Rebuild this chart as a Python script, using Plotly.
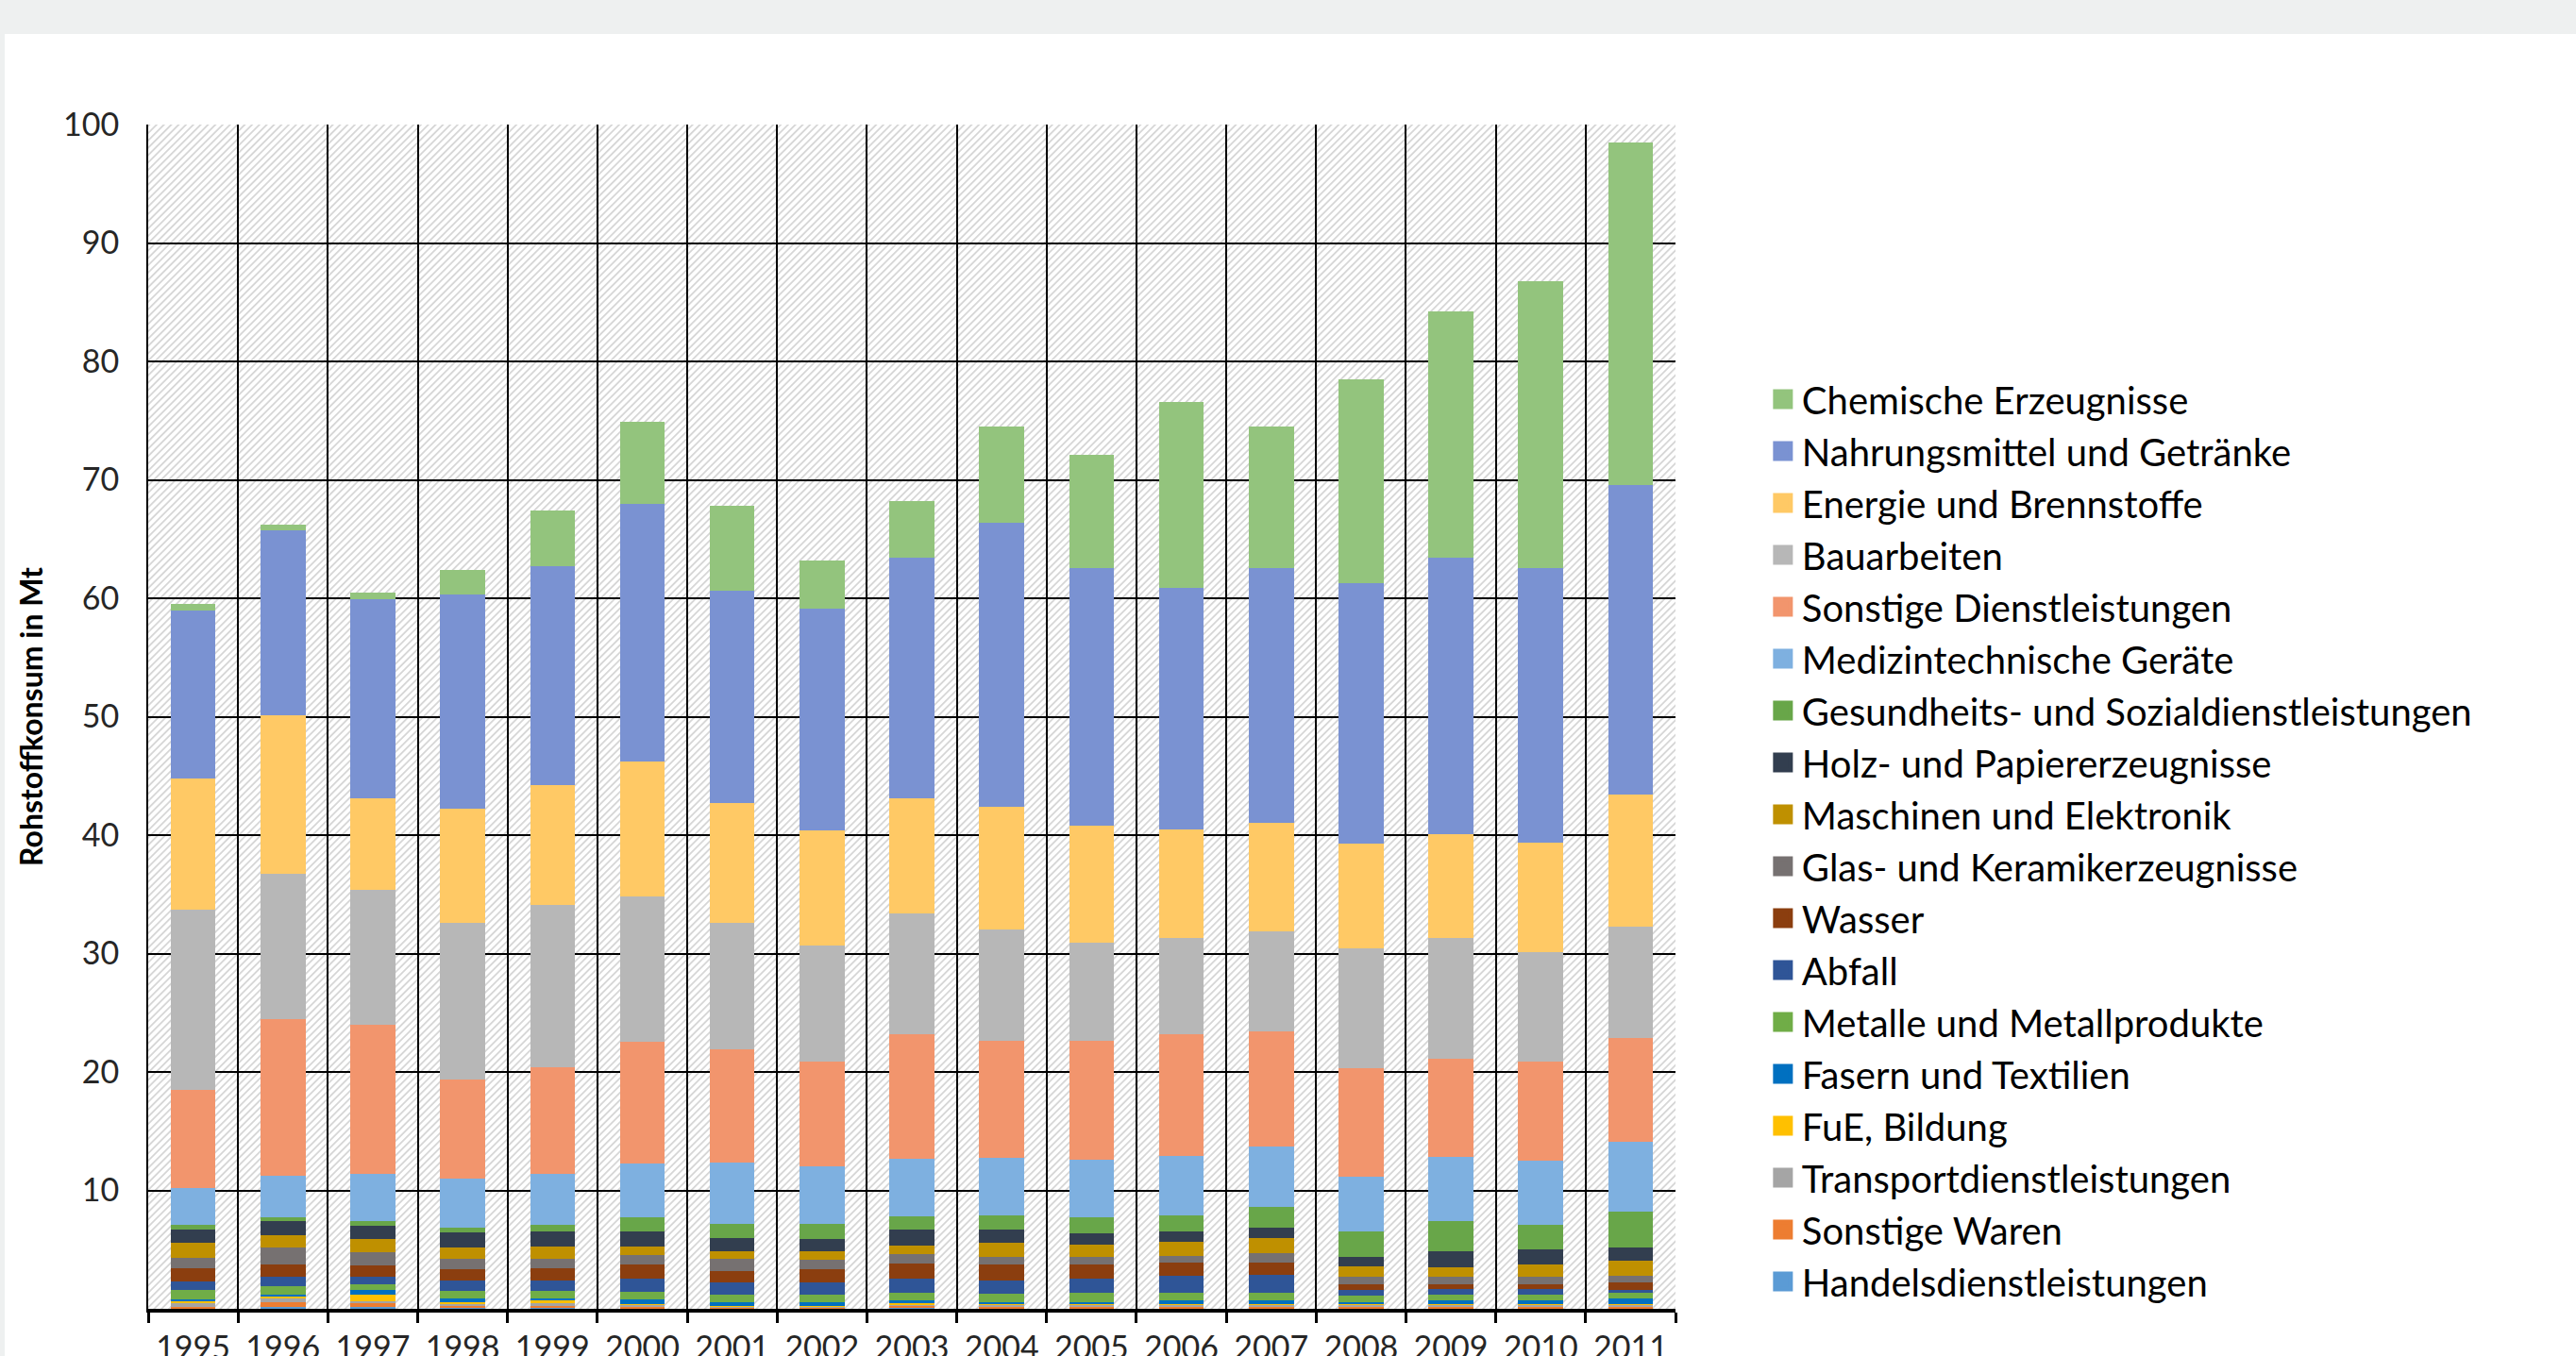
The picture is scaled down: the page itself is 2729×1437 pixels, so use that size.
import base64
import plotly.graph_objects as go

years = [str(y) for y in range(1995, 2012)]

# series, bottom of the stack first
handels = [0.07, 0.14, 0.12, 0.10, 0.07, 0.07, 0.05, 0.05, 0.08, 0.06, 0.06, 0.07, 0.07, 0.06, 0.07, 0.07, 0.07]
sonst_waren = [0.12, 0.45, 0.32, 0.20, 0.18, 0.14, 0.05, 0.05, 0.12, 0.12, 0.12, 0.13, 0.13, 0.12, 0.13, 0.13, 0.13]
transport = [0.32, 0.25, 0.20, 0.13, 0.20, 0.13, 0.06, 0.06, 0.16, 0.15, 0.15, 0.15, 0.15, 0.15, 0.15, 0.15, 0.15]
fue = [0.10, 0.25, 0.58, 0.13, 0.30, 0.08, 0.05, 0.05, 0.15, 0.10, 0.10, 0.07, 0.07, 0.10, 0.07, 0.07, 0.07]
fasern = [0.16, 0.13, 0.35, 0.34, 0.13, 0.35, 0.35, 0.35, 0.18, 0.13, 0.13, 0.32, 0.32, 0.13, 0.32, 0.32, 0.48]
metalle = [0.80, 0.67, 0.48, 0.64, 0.66, 0.64, 0.66, 0.66, 0.66, 0.71, 0.79, 0.61, 0.61, 0.53, 0.48, 0.48, 0.45]
abfall = [0.71, 0.85, 0.69, 0.88, 0.88, 1.14, 1.01, 1.01, 1.20, 1.15, 1.20, 1.47, 1.52, 0.48, 0.48, 0.48, 0.27]
wasser = [1.15, 1.00, 0.95, 0.93, 0.98, 1.19, 0.98, 1.12, 1.27, 1.32, 1.19, 1.06, 1.01, 0.50, 0.37, 0.40, 0.61]
glas = [0.90, 1.47, 1.12, 0.85, 0.80, 0.80, 0.99, 0.79, 0.80, 0.67, 0.62, 0.61, 0.85, 0.61, 0.67, 0.58, 0.59]
maschinen = [1.22, 1.00, 1.06, 1.01, 1.06, 0.72, 0.69, 0.75, 0.72, 1.14, 1.06, 1.19, 1.27, 0.88, 0.79, 1.06, 1.27]
holz = [1.17, 1.17, 1.17, 1.27, 1.27, 1.27, 1.11, 0.98, 1.33, 1.17, 0.98, 0.85, 0.88, 0.80, 1.36, 1.28, 1.12]
gesundheit = [0.40, 0.35, 0.37, 0.37, 0.54, 1.20, 1.20, 1.33, 1.14, 1.14, 1.33, 1.33, 1.70, 2.17, 2.49, 2.05, 3.00]
medizin = [3.08, 3.50, 3.96, 4.12, 4.30, 4.51, 5.18, 4.83, 4.89, 4.92, 4.83, 5.04, 5.12, 4.65, 5.48, 5.44, 5.89]
sonst_dl = [8.30, 13.27, 12.63, 8.43, 9.03, 10.31, 9.52, 8.87, 10.50, 9.82, 10.04, 10.30, 9.70, 9.12, 8.24, 8.39, 8.80]
bau = [15.2, 12.25, 11.4, 13.2, 13.7, 12.25, 10.7, 9.75, 10.2, 9.4, 8.3, 8.1, 8.5, 10.1, 10.2, 9.2, 9.4]
energie = [11.1, 13.35, 7.7, 9.6, 10.1, 11.4, 10.1, 9.75, 9.7, 10.4, 9.9, 9.2, 9.15, 8.85, 8.8, 9.3, 11.1]
nahrung = [14.15, 15.6, 16.8, 18.1, 18.5, 21.76, 17.9, 18.7, 20.3, 24.0, 21.75, 20.4, 21.5, 22.05, 23.3, 23.15, 26.2]
chemie = [0.55, 0.5, 0.6, 2.1, 4.7, 6.94, 7.2, 4.1, 4.8, 8.1, 9.55, 15.7, 11.95, 17.2, 20.8, 24.25, 28.9]

series_names = [
    "Handelsdienstleistungen", "Sonstige Waren", "Transportdienstleistungen", "FuE, Bildung",
    "Fasern und Textilien", "Metalle und Metallprodukte", "Abfall", "Wasser",
    "Glas- und Keramikerzeugnisse", "Maschinen und Elektronik", "Holz- und Papiererzeugnisse",
    "Gesundheits- und Sozialdienstleistungen", "Medizintechnische Geräte",
    "Sonstige Dienstleistungen", "Bauarbeiten", "Energie und Brennstoffe",
    "Nahrungsmittel und Getränke", "Chemische Erzeugnisse",
]
series_values = [
    handels, sonst_waren, transport, fue, fasern, metalle, abfall, wasser, glas,
    maschinen, holz, gesundheit, medizin, sonst_dl, bau, energie, nahrung, chemie,
]
series_colors = [
    "#5B9BD5", "#ED7D31", "#A5A5A5", "#FFC000", "#0070C0", "#70AD47", "#2F5597", "#8B3E0F",
    "#767171", "#BF9000", "#323E4F", "#68A649", "#7EB0E0", "#F2956D", "#B7B7B7", "#FFC965",
    "#7A92D2", "#93C47D",
]

y_ticks = list(range(10, 101, 10))

FONT = "Lato"
W, H = 2729, 1437
ML, MR, MT, MB = 157, 954, 132, 50
PW, PH = W - ML - MR, H - MT - MB


def py(pix):
    """pixel row (from top of the page) -> paper y"""
    return (H - MB - pix) / PH


def px(pix):
    """pixel column (from left of the page) -> paper x"""
    return (pix - ML) / PW


fig = go.Figure()
for name, vals, col in zip(series_names, series_values, series_colors):
    fig.add_trace(go.Bar(
        x=years, y=vals, name=name, marker=dict(color=col, line=dict(width=0)),
        legendgroup=name, showlegend=False,
    ))

# legend entries (top series first, like the reference)
for name, col in reversed(list(zip(series_names, series_colors))):
    fig.add_trace(go.Scatter(
        x=[None], y=[None], mode="markers", name=name, legendgroup=name,
        marker=dict(symbol="square", size=16, color=col, line=dict(width=5, color=col)),
    ))

# hatched plot background (diagonal light-grey stripes)
svg = (
    f'<svg xmlns="http://www.w3.org/2000/svg" width="{PW}" height="{PH}" viewBox="0 0 {PW} {PH}">'
    '<defs><pattern id="h" width="5.5" height="5.5" patternUnits="userSpaceOnUse" patternTransform="rotate(45)">'
    '<rect x="0" y="0" width="1.8" height="5.5" fill="#d6d6d6"/></pattern></defs>'
    f'<rect x="0" y="0" width="{PW}" height="{PH}" fill="#ffffff"/>'
    f'<rect x="0" y="0" width="{PW}" height="{PH}" fill="url(#h)"/></svg>'
)
svg_uri = "data:image/svg+xml;base64," + base64.b64encode(svg.encode()).decode()

fig.update_layout(
    width=W, height=H,
    margin=dict(l=ML, r=MR, t=MT, b=MB, autoexpand=False),
    paper_bgcolor="#ffffff", plot_bgcolor="rgba(0,0,0,0)",
    barmode="stack", bargap=0.5,
    font=dict(family=FONT, color="#000000"),
    images=[dict(source=svg_uri, xref="paper", yref="paper", x=0, y=1, sizex=1, sizey=1,
                 sizing="stretch", xanchor="left", yanchor="top", layer="below")],
    legend=dict(
        x=1.058, xanchor="left", y=0.794, yanchor="top",
        font=dict(family=FONT, size=40, color="#000000"),
        bgcolor="rgba(0,0,0,0)", traceorder="normal", tracegroupgap=0,
        itemclick=False, itemdoubleclick=False,
    ),
    shapes=[
        dict(type="rect", xref="paper", yref="paper",
             x0=px(0), x1=px(W) + 0.01, y0=py(36), y1=py(0) + 0.01,
             fillcolor="#EEF0F0", line=dict(width=0), layer="below"),
        dict(type="rect", xref="paper", yref="paper",
             x0=px(0) - 0.01, x1=px(5), y0=py(H) - 0.01, y1=py(0) + 0.01,
             fillcolor="#EEF0F0", line=dict(width=0), layer="below"),
    ],
)

fig.update_xaxes(
    type="category", tickson="boundaries", showgrid=True, gridcolor="#000000", gridwidth=2,
    showline=True, linecolor="#000000", linewidth=4,
    ticks="outside", ticklen=11, tickwidth=3, tickcolor="#000000",
    tickfont=dict(family=FONT, size=34, color="#262626"), ticklabelstandoff=8,
    fixedrange=True,
)
fig.update_yaxes(
    range=[0, 100], tickvals=y_ticks, showgrid=True, gridcolor="#000000", gridwidth=2,
    zeroline=False, showline=True, linecolor="#000000", linewidth=2, ticks="",
    tickfont=dict(family=FONT, size=34, color="#262626"), ticklabelstandoff=22,
    title=dict(text="<b>Rohstoffkonsum in Mt</b>", font=dict(family=FONT, size=32, color="#000000"),
               standoff=12),
    fixedrange=True,
)

fig.write_html("out.html", config={"displayModeBar": False},
               post_script="document.body.style.margin='0';")
